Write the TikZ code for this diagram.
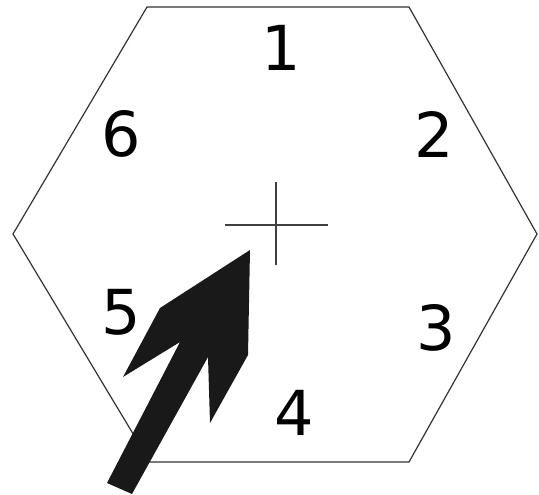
\documentclass[tikz,border=0pt]{standalone}
\usepackage{fontspec}
\setmainfont{DejaVu Sans}
\usetikzlibrary{positioning}

\begin{document}
\begin{tikzpicture}[x=1pt, y=-1pt,
    digit/.style={font=\fontsize{62}{64}\selectfont, inner sep=0pt},
    edge/.style={draw=black!80, line width=1.2pt}]
  \useasboundingbox (0,0) rectangle (539,495);
  % hexagon
  \draw[edge] (147,7) -- (409,7) -- (537,234) -- (409,462) -- (150,462) -- (13,234) -- cycle;
  % numbers
  \node[digit] (n1) at (281,48) {1};
  \node[digit] (n2) at (434,134) {2};
  \node[digit] (n3) at (436,328) {3};
  \node[digit] (n4) at (294,413) {4};
  \node[digit] (n5) at (121,312) {5};
  \node[digit] (n6) at (121,134) {6};
  % cross
  \coordinate (c) at (276,225);
  \draw[black!75, line width=1.2pt] ([xshift=-51pt]c) -- ([xshift=52pt]c);
  \draw[black!75, line width=1.2pt] ([yshift=-40pt]c) -- ([yshift=43pt]c);
  % arrow
  \fill[black!90] (107,483) -- (180,342) -- (123,377) -- (160,308) -- (250,250)
    -- (248,355) -- (210,423) -- (208,357) -- (132,494) -- cycle;
\end{tikzpicture}
\end{document}
